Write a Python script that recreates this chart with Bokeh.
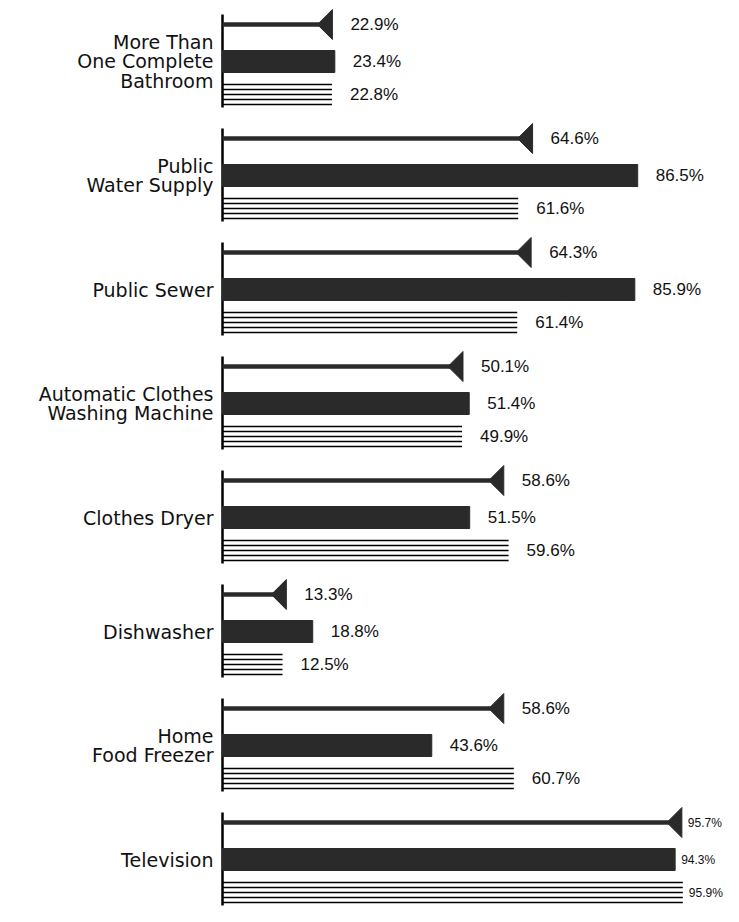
import numpy as np
from bokeh.plotting import figure
from bokeh.models import Range1d
from bokeh.core.properties import value
from bokeh.embed import file_html
from bokeh.resources import INLINE

# ---- data ----
categories = [
    "More Than\nOne Complete\nBathroom",
    "Public\nWater Supply",
    "Public Sewer",
    "Automatic Clothes\nWashing Machine",
    "Clothes Dryer",
    "Dishwasher",
    "Home\nFood Freezer",
    "Television",
]
flag_values = [22.9, 64.6, 64.3, 50.1, 58.6, 13.3, 58.6, 95.7]
dark_values = [23.4, 86.5, 85.9, 51.4, 51.5, 18.8, 43.6, 94.3]
striped_values = [22.8, 61.6, 61.4, 49.9, 59.6, 12.5, 60.7, 95.9]
flag_labels = ["22.9%", "64.6%", "64.3%", "50.1%", "58.6%", "13.3%", "58.6%", "95.7%"]
dark_labels = ["23.4%", "86.5%", "85.9%", "51.4%", "51.5%", "18.8%", "43.6%", "94.3%"]
striped_labels = ["22.8%", "61.6%", "61.4%", "49.9%", "59.6%", "12.5%", "60.7%", "95.9%"]

# ---- layout constants (screen based) ----
W, H = 723, 906
PX_PER_PCT = 4.8
ZERO_PX = 222
PITCH = 114.0           # px per group
FIRST = 24              # px of first flag line
gu = 1.0 / PITCH        # group units per px

x0 = -ZERO_PX / PX_PER_PCT
x1 = (W - ZERO_PX) / PX_PER_PCT
y_top = -FIRST * gu
y_bot = (H - FIRST) * gu

p = figure(width=W, height=H, output_backend="svg", toolbar_location=None,
           x_range=Range1d(x0, x1), y_range=Range1d(y_bot, y_top),
           x_axis_location=None, y_axis_location=None, min_border=0,
           outline_line_color=None, background_fill_color="white",
           border_fill_color="white")
p.grid.visible = False

n = len(categories)
g = np.arange(n, dtype=float)
y_flag = g
y_dark = g + 37 * gu
y_str = g + 70 * gu

DARK = "#2a2a2a"

# axis segments per group
p.segment(x0=np.zeros(n), x1=np.zeros(n), y0=g - 10 * gu, y1=g + 83 * gu,
          line_color="black", line_width=2.5)

# flag: line + triangle
fv = np.array(flag_values)
tw = 15 / PX_PER_PCT
th = 30 * gu
p.segment(x0=np.zeros(n), x1=fv - tw * 0.5, y0=y_flag, y1=y_flag,
          line_color=DARK, line_width=4.5)
xs = [[v - tw, v, v] for v in fv]
ys = [[y, y - th / 2, y + th / 2] for y in y_flag]
p.patches(xs=xs, ys=ys, fill_color=DARK, line_color=DARK, line_width=1)

# dark bars
p.hbar(y=y_dark, left=0, right=dark_values, height=22 * gu,
       fill_color=DARK, line_color=DARK)

# striped bars: horizontal rules
sv = np.array(striped_values)
for off in (-10, -5, 0, 5, 10):
    p.segment(x0=np.zeros(n), x1=sv, y0=y_str + off * gu, y1=y_str + off * gu,
              line_color="black", line_width=1.6)

# value labels (last group drawn smaller, it sits at the right edge)
lab_font = value("Liberation Sans")
main = slice(0, n - 1)
for xv, yv, lab in ((fv, y_flag, flag_labels),
                    (np.array(dark_values), y_dark, dark_labels),
                    (sv, y_str, striped_labels)):
    p.text(x=xv[main], y=yv[main], text=lab[:n - 1], x_offset=18,
           text_baseline="middle", text_font=lab_font, text_font_size="17px",
           text_color="#111111")
    p.text(x=xv[n - 1:], y=yv[n - 1:], text=lab[n - 1:], x_offset=6,
           text_baseline="middle", text_font=lab_font, text_font_size="12px",
           text_color="#111111")

# category labels
p.text(x=np.zeros(n), y=y_dark, text=categories, x_offset=-9, text_align="right",
       text_baseline="middle", text_font=value("DejaVu Sans"),
       text_font_size="19px", text_line_height=0.88, text_color="#111111")

open("out.html", "w").write(file_html(p, INLINE))
